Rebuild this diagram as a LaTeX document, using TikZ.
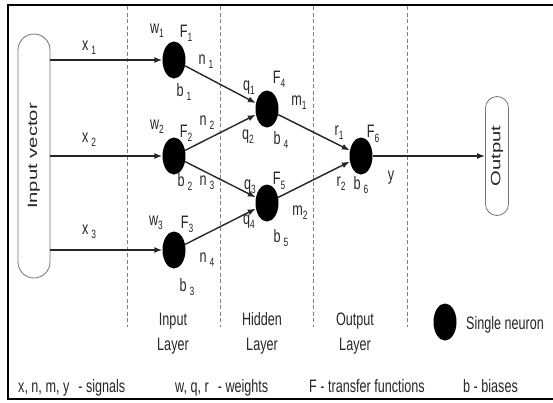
\documentclass[tikz,border=0pt]{standalone}
\usepackage{fontspec}
\newfontfamily\figfont[FakeStretch=0.7]{Liberation Sans}
\newfontfamily\sidefont[FakeStretch=1.5]{Liberation Sans}
\usetikzlibrary{shapes.geometric,arrows.meta,calc}
\newcommand{\sub}[2]{#1\raisebox{-0.45ex}{\fontsize{12}{12}\selectfont #2}}

\begin{document}
\begin{tikzpicture}[x=1pt,y=-1pt,
  neuron/.style={ellipse,fill=black,minimum width=23pt,minimum height=37pt,inner sep=0pt},
  iobox/.style={draw=black!55,line width=0.8pt,inner sep=0pt,font=\sidefont\fontsize{13.5}{13.5}\selectfont,text=black!85},
  lbl/.style={font=\figfont\fontsize{18}{18}\selectfont,inner sep=0pt,text=black!85},
  layer/.style={font=\figfont\fontsize{18}{25}\selectfont,align=center,inner sep=0pt,text=black!85},
  arr/.style={-{Latex[length=8pt,width=6pt]},line width=1.4pt,black!85},
  divider/.style={dash pattern=on 4pt off 2.5pt,black!50,line width=0.6pt},
]
  \useasboundingbox (0,0) rectangle (553,402);
  \draw[line width=2.4pt] (553,5) -- (8,5) -- (8,399) -- (553,399);
  \foreach \x in {127,220,313,407}
    \draw[divider] (\x,6) -- (\x,327);

  \node[iobox,rounded corners=16pt,minimum width=32pt,minimum height=244pt] (invec) at (34,156) {\rotatebox{90}{Input vector}};
  \node[iobox,rounded corners=11.5pt,minimum width=23pt,minimum height=119pt] (outbox) at (497,156) {\rotatebox{90}{Output}};

  \node[neuron] (n1) at (174,60) {};
  \node[neuron] (n2) at (174,156) {};
  \node[neuron] (n3) at (174,250) {};
  \node[neuron] (n4) at (267,109) {};
  \node[neuron] (n5) at (267,203) {};
  \node[neuron] (n6) at (361,156) {};
  \node[neuron] (key) at (445,322) {};

  \draw[arr] (invec.east |- n1) -- (n1);
  \draw[arr] (invec.east |- n2) -- (n2);
  \draw[arr] (invec.east |- n3) -- (n3);
  \draw[arr] (n1) -- (n4);
  \draw[arr] (n2) -- (n4);
  \draw[arr] (n2) -- (n5);
  \draw[arr] (n3) -- (n5);
  \draw[arr] (n4) -- (n6);
  \draw[arr] (n5) -- (n6);
  \draw[arr] (n6) -- (outbox);

  \node[lbl] at (89,48) {\sub{x\,}{1}};
  \node[lbl] at (89,140) {\sub{x\,}{2}};
  \node[lbl] at (89,232) {\sub{x\,}{3}};
  \node[lbl] at (157,31) {\sub{w}{1}};
  \node[lbl] at (186,33) {\sub{F}{1}};
  \node[lbl] at (206,62) {\sub{n\,}{1}};
  \node[lbl] at (184,92) {\sub{b\,}{1}};
  \node[lbl] at (157,127) {\sub{w}{2}};
  \node[lbl] at (186,133) {\sub{F}{2}};
  \node[lbl] at (207,123) {\sub{n\,}{2}};
  \node[lbl] at (185,182) {\sub{b\,}{2}};
  \node[lbl] at (207,183) {\sub{n\,}{3}};
  \node[lbl] at (156,223) {\sub{w}{3}};
  \node[lbl] at (187,224) {\sub{F}{3}};
  \node[lbl] at (207,260) {\sub{n\,}{4}};
  \node[lbl] at (187,287) {\sub{b\,}{3}};
  \node[lbl] at (249,88) {\sub{q}{1}};
  \node[lbl] at (248,137) {\sub{q}{2}};
  \node[lbl] at (250,187) {\sub{q}{3}};
  \node[lbl] at (249,222) {\sub{q}{4}};
  \node[lbl] at (279,79) {\sub{F}{4}};
  \node[lbl] at (281,140) {\sub{b\,}{4}};
  \node[lbl] at (299,103) {\sub{m}{1}};
  \node[lbl] at (279,181) {\sub{F}{5}};
  \node[lbl] at (300,213) {\sub{m}{2}};
  \node[lbl] at (281,238) {\sub{b\,}{5}};
  \node[lbl] at (339,133) {\sub{r}{1}};
  \node[lbl] at (373,134) {\sub{F}{6}};
  \node[lbl] at (341,184) {\sub{r}{2}};
  \node[lbl] at (361,185) {\sub{b\,}{6}};
  \node[lbl] at (391,178) {y};

  \node[layer,anchor=base] at (173,350) {Input\\Layer};
  \node[layer,anchor=base] at (262,350) {Hidden\\Layer};
  \node[layer,anchor=base] at (355,350) {Output\\Layer};
  \node[lbl,anchor=base west] at (466,329) {Single neuron};

  \node[lbl,anchor=base west] at (18,392) {x, n, m, y\enspace- signals};
  \node[lbl,anchor=base west] at (175,392) {w, q, r\enspace- weights};
  \node[lbl,anchor=base west] at (309,392) {F - transfer functions};
  \node[lbl,anchor=base west] at (463,392) {b - biases};
\end{tikzpicture}
\end{document}
